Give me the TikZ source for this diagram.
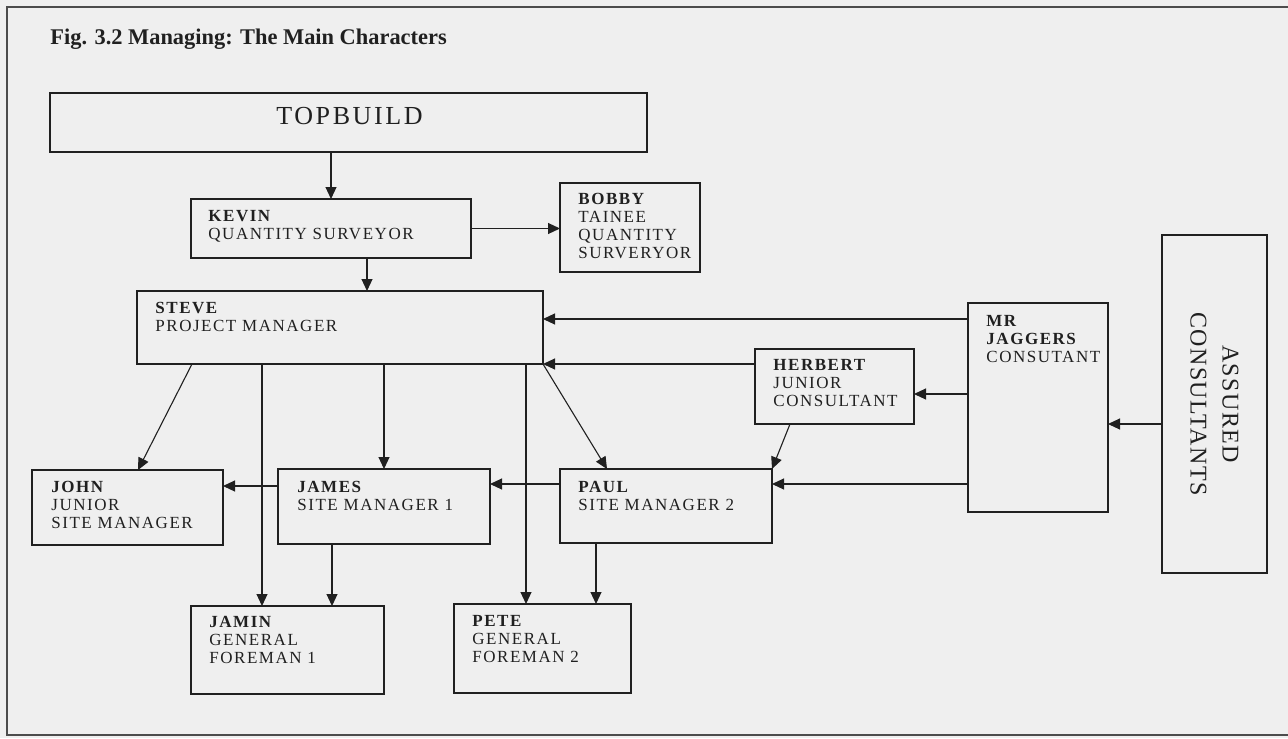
\documentclass[tikz,border=0pt]{standalone}
\usepackage{fontspec}
\setmainfont{Liberation Serif}
\usetikzlibrary{arrows.meta,calc}
\definecolor{paper}{RGB}{239,239,239}
\definecolor{ink}{RGB}{32,32,32}
\tikzset{
  box/.style={draw=ink, line width=0.65pt, anchor=north west, inner sep=0pt, outer sep=0pt},
  txt/.style={anchor=north west, inner sep=0pt, align=left, text=ink,
    font=\fontsize{8.5}{9}\selectfont\addfontfeatures{LetterSpace=9}},
  link/.style={draw=ink, line width=0.55pt, -{Triangle[length=6pt,width=5.5pt]}}
}
\begin{document}
\begin{tikzpicture}[x=0.5pt,y=-0.5pt]
\fill[paper] (0,0) rectangle (1288,738);
\useasboundingbox (0,0) rectangle (1288,738);
\draw[ink!80, line width=0.7pt] (1288,7) -- (7,7) -- (7,735) -- (1288,735);
\node[txt, anchor=base west, font=\fontsize{11.2}{13}\selectfont\bfseries] (title) at (50,45) {Fig. 3.2 Managing: The Main Characters};

\node[box, minimum width=298.5pt, minimum height=29.5pt] (topbuild) at (50,93) {};
\node[box, minimum width=140pt, minimum height=29.5pt] (kevin) at (191,199) {};
\node[box, minimum width=70pt, minimum height=44.5pt] (bobby) at (560,183) {};
\node[box, minimum width=203pt, minimum height=36.5pt] (steve) at (137,291) {};
\node[box, minimum width=70pt, minimum height=104.5pt] (jaggers) at (968,303) {};
\node[box, minimum width=79.5pt, minimum height=37.5pt] (herbert) at (755,349) {};
\node[box, minimum width=52.5pt, minimum height=169pt] (assured) at (1162,235) {};
\node[box, minimum width=95.5pt, minimum height=37.5pt] (john) at (32,470) {};
\node[box, minimum width=106pt, minimum height=37.5pt] (james) at (278,469) {};
\node[box, minimum width=106pt, minimum height=37pt] (paul) at (560,469) {};
\node[box, minimum width=96.5pt, minimum height=44pt] (jamin) at (191,606) {};
\node[box, minimum width=88.5pt, minimum height=44.5pt] (pete) at (454,604) {};

\node[txt, anchor=base, font=\fontsize{13}{15}\selectfont\addfontfeatures{LetterSpace=10}] (topbuild-t) at ($(topbuild.north)+(1,31)$) {TOPBUILD};
\node[txt] (kevin-t) at ($(kevin.north west)+(17,11)$) {\textbf{KEVIN}\\QUANTITY SURVEYOR};
\node[txt] (bobby-t) at ($(bobby.north west)+(18,10)$) {\textbf{BOBBY}\\TAINEE\\QUANTITY\\SURVERYOR};
\node[txt] (steve-t) at ($(steve.north west)+(18,11)$) {\textbf{STEVE}\\PROJECT MANAGER};
\node[txt] (jaggers-t) at ($(jaggers.north west)+(18,12)$) {\textbf{MR}\\\textbf{JAGGERS}\\CONSUTANT};
\node[txt] (herbert-t) at ($(herbert.north west)+(18,10)$) {\textbf{HERBERT}\\JUNIOR\\CONSULTANT};
\node[txt] (john-t) at ($(john.north west)+(19,11)$) {\textbf{JOHN}\\JUNIOR\\SITE MANAGER};
\node[txt] (james-t) at ($(james.north west)+(19,12)$) {\textbf{JAMES}\\SITE MANAGER 1};
\node[txt] (paul-t) at ($(paul.north west)+(18,12)$) {\textbf{PAUL}\\SITE MANAGER 2};
\node[txt] (jamin-t) at ($(jamin.north west)+(18,10)$) {\textbf{JAMIN}\\GENERAL\\FOREMAN 1};
\node[txt] (pete-t) at ($(pete.north west)+(18,11)$) {\textbf{PETE}\\GENERAL\\FOREMAN 2};
\node[txt, anchor=center, align=center, rotate=-90,
  font=\fontsize{12}{16}\selectfont\addfontfeatures{LetterSpace=6}] (assured-t) at (assured.center) {ASSURED\\CONSULTANTS};

\draw[link] (kevin.north |- topbuild.south) -- (kevin.north);
\draw[link] (kevin.east) -- (kevin.east -| bobby.west);
\draw[link] ($(kevin.south west)+(176,0)$) -- ($(steve.north west)+(230,0)$);
\draw[link] ($(jaggers.north west)+(0,16)$) -- ($(steve.north east)+(0,28)$);
\draw[link] ($(herbert.north west)+(0,15)$) -- (steve.south east);
\draw[link] ($(jaggers.north west)+(0,91)$) -- ($(herbert.north east)+(0,45)$);
\draw[link] ($(assured.south west)+(0,-149)$) -- ($(jaggers.north east)+(0,121)$);
\draw[link] ($(jaggers.north west)+(0,181)$) -- ($(paul.north east)+(0,15)$);
\draw[link] ($(herbert.south west)+(35,0)$) -- (paul.north east);
\draw[link] ($(steve.south west)+(55,0)$) -- ($(john.north west)+(106,0)$);
\draw[link] ($(steve.south west)+(125,0)$) -- ($(jamin.north west)+(71,0)$);
\draw[link] (james.north |- steve.south) -- (james.north);
\draw[link] ($(steve.south west)+(389,0)$) -- ($(pete.north west)+(72,0)$);
\draw[link] (steve.south east) -- ($(paul.north west)+(47,0)$);
\draw[link] ($(james.north west)+(0,17)$) -- ($(john.north east)+(0,16)$);
\draw[link] ($(paul.north west)+(0,15)$) -- ($(james.north east)+(0,15)$);
\draw[link] ($(james.south west)+(54,0)$) -- ($(jamin.north west)+(141,0)$);
\draw[link] ($(paul.south west)+(36,0)$) -- ($(pete.north west)+(142,0)$);
\end{tikzpicture}
\end{document}
